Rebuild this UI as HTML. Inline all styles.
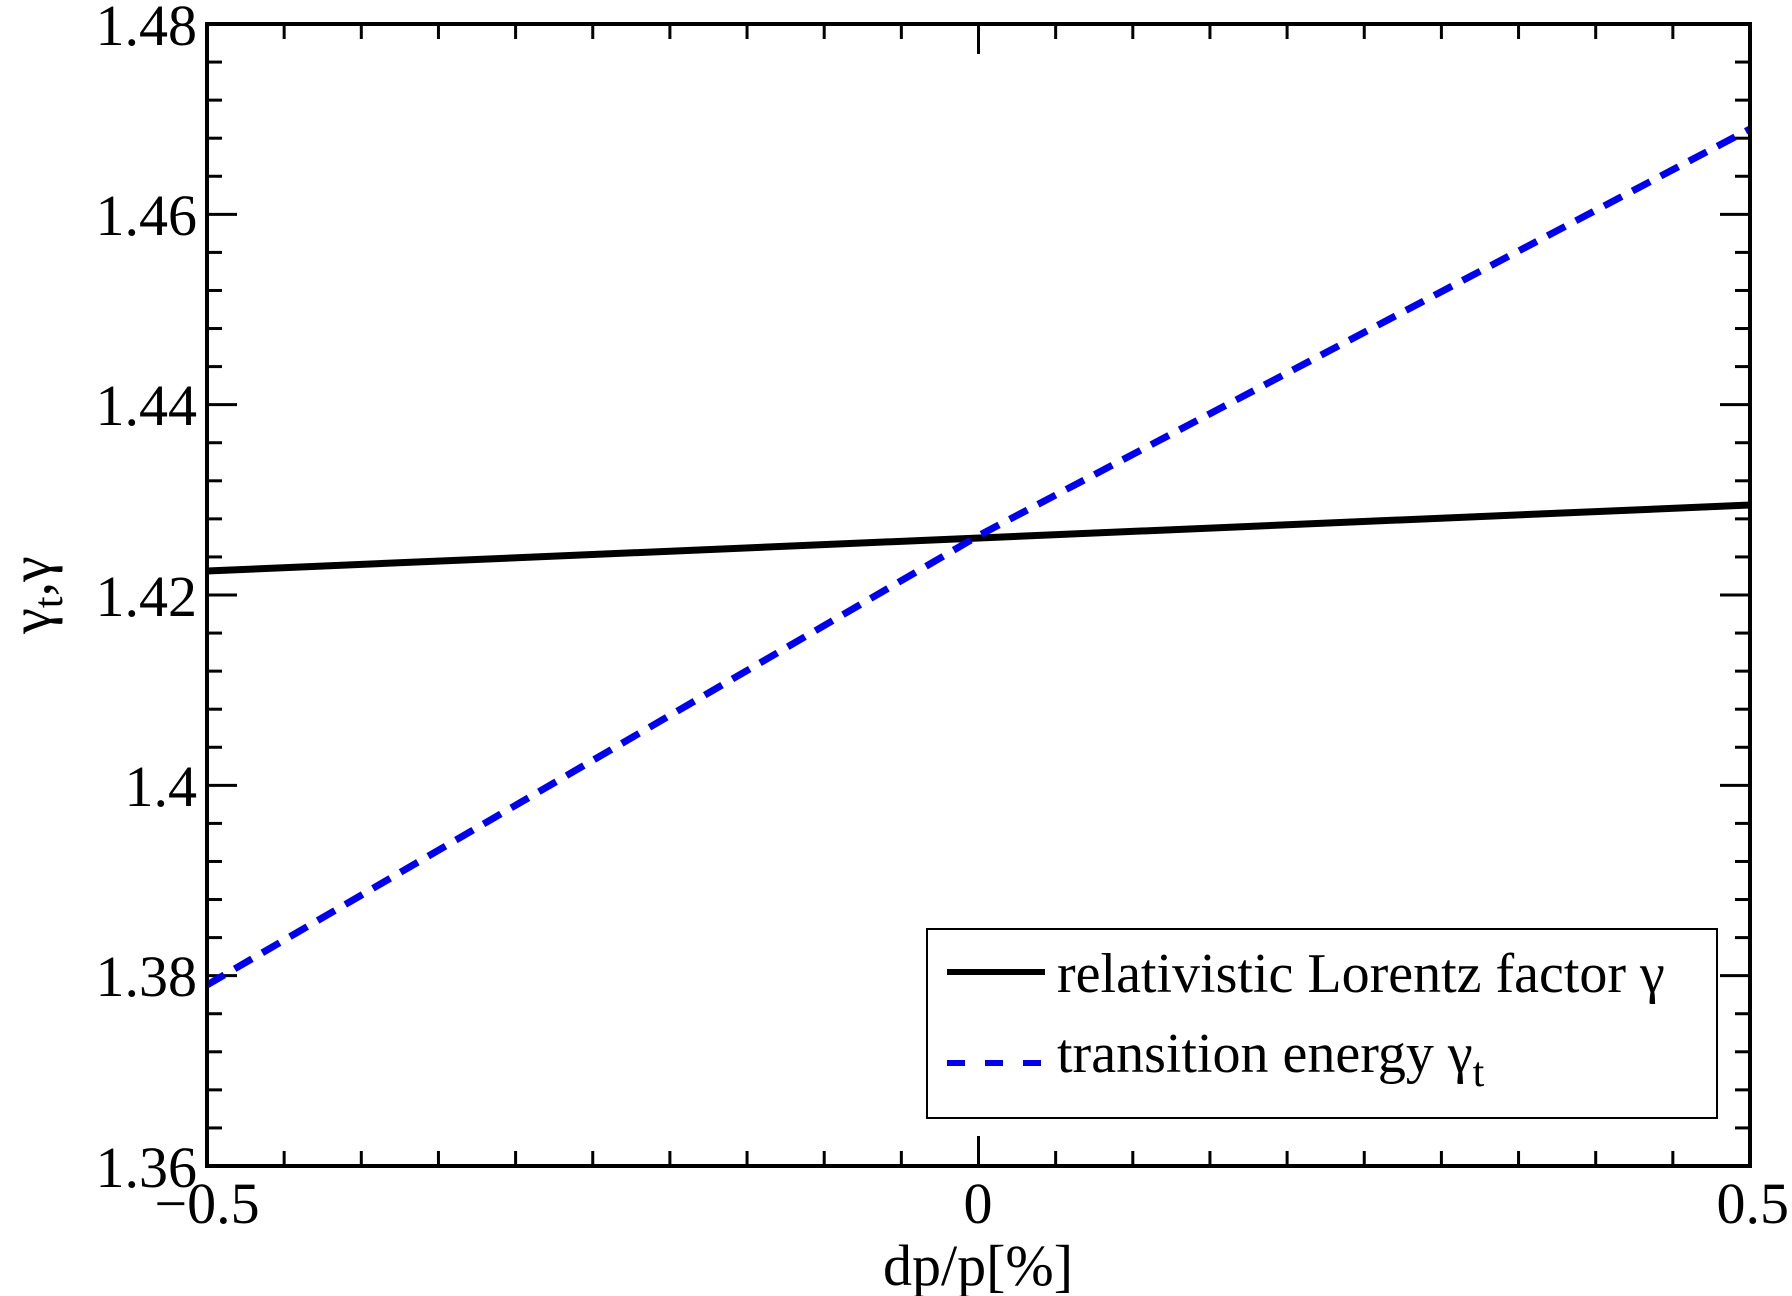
<!DOCTYPE html>
<html><head><meta charset="utf-8"><style>html,body{margin:0;padding:0;background:#fff}svg{display:block}</style></head>
<body>
<svg width="1792" height="1296" viewBox="0 0 1792 1296" xmlns="http://www.w3.org/2000/svg" font-family="Liberation Serif, serif">
<rect width="1792" height="1296" fill="#fff"/>
<g stroke="#000" stroke-width="3">
<g id="xt">
</g>
</g>
<script>
(function(){
var ns="http://www.w3.org/2000/svg";var g=document.getElementById("xt");
function ln(x1,y1,x2,y2){var l=document.createElementNS(ns,"line");l.setAttribute("x1",x1);l.setAttribute("y1",y1);l.setAttribute("x2",x2);l.setAttribute("y2",y2);g.appendChild(l);}
var L=207,R=1750,T=24,B=1166;
for(var i=0;i<=20;i++){var x=L+(R-L)*i/20;var len=(i%10==0)?30:15;ln(x,B,x,B-len);ln(x,T,x,T+len);}
for(var j=0;j<=30;j++){var y=T+(B-T)*j/30;var len2=(j%5==0)?30:15;ln(L,y,L+len2,y);ln(R,y,R-len2,y);}
})();
</script>
<line x1="207" y1="571" x2="1750" y2="505" stroke="#000" stroke-width="7"/>
<polyline points="207,985 978,536 1750,129" fill="none" stroke="#0000ee" stroke-width="7" stroke-dasharray="20,12"/>
<rect x="207" y="24" width="1543" height="1142" fill="none" stroke="#000" stroke-width="4"/>
<g font-size="58" text-anchor="end" fill="#000">
<text x="197" y="45">1.48</text>
<text x="197" y="235">1.46</text>
<text x="197" y="425">1.44</text>
<text x="197" y="616">1.42</text>
<text x="197" y="806">1.4</text>
<text x="197" y="996">1.38</text>
<text x="197" y="1187">1.36</text>
</g>
<g font-size="58" fill="#000">
<text x="207" y="1223" text-anchor="middle">−0.5</text>
<text x="978" y="1223" text-anchor="middle">0</text>
<text x="1789" y="1223" text-anchor="end">0.5</text>
<text x="978" y="1285" text-anchor="middle">dp/p[%]</text>
<text transform="translate(50,595) rotate(-90)" text-anchor="middle">γ<tspan font-size="42" dy="12">t</tspan><tspan dy="-12">,γ</tspan></text>
</g>
<rect x="927" y="929" width="790" height="189" fill="#fff" stroke="#000" stroke-width="2"/>
<line x1="947" y1="972" x2="1045" y2="972" stroke="#000" stroke-width="6"/>
<line x1="947" y1="1063" x2="1045" y2="1063" stroke="#0000ee" stroke-width="6" stroke-dasharray="18,20"/>
<g font-size="56" fill="#000">
<text x="1057" y="992">relativistic Lorentz factor γ</text>
<text x="1057" y="1072">transition energy γ<tspan font-size="42" dy="14">t</tspan></text>
</g>
</svg>
</body></html>
